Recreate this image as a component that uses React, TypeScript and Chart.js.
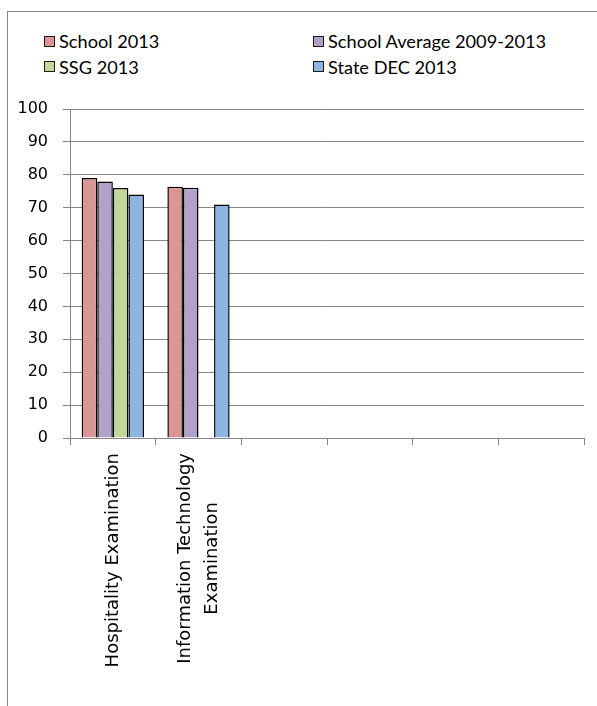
import React, { useEffect, useRef } from "react";
import { Chart, registerables } from "chart.js";

Chart.register(...registerables);

// ---- data ----
const categories: string[][] = [
  ["Hospitality Examination"],
  ["Information Technology", "Examination"],
  [""],
  [""],
  [""],
  [""],
];
const seriesNames = ["School 2013", "School Average 2009-2013", "SSG 2013", "State DEC 2013"];
const school2013: (number | null)[] = [79, 76.4, null, null, null, null];
const schoolAverage: (number | null)[] = [78, 76.1, null, null, null, null];
const ssg2013: (number | null)[] = [76, null, null, null, null, null];
const stateDec2013: (number | null)[] = [74, 71, null, null, null, null];
const seriesColors = ["#D99694", "#B3A2C7", "#C3D69B", "#8EB4E3"];
const yMin = 0;
const yMax = 100;
const yStep = 10;

const GRID = "#868686";

const xLabelPlugin = {
  id: "xLabelPlugin",
  afterDraw(chart: any) {
    const scale = chart.scales.x;
    const ctx = chart.ctx;
    ctx.save();
    ctx.font = "18px 'DejaVu Sans'";
    ctx.fillStyle = "#000";
    ctx.textAlign = "center";
    ctx.textBaseline = "middle";
    (chart.data.labels as any[]).forEach((lab, i) => {
      const lines: string[] = Array.isArray(lab) ? lab : [String(lab)];
      const maxW = Math.max(...lines.map((l) => ctx.measureText(l).width));
      if (!maxW) return;
      const x = scale.getPixelForTick(i);
      const y = scale.top + 15 + maxW / 2;
      ctx.save();
      ctx.translate(x, y);
      ctx.rotate(-Math.PI / 2);
      const lh = 26.7;
      lines.forEach((l, j) => ctx.fillText(l, 0, (j - (lines.length - 1) / 2) * lh));
      ctx.restore();
    });
    ctx.restore();
  },
};

export default function App() {
  const canvasRef = useRef<HTMLCanvasElement | null>(null);

  useEffect(() => {
    if (!canvasRef.current) return;
    const seriesData = [school2013, schoolAverage, ssg2013, stateDec2013];
    const chart = new Chart(canvasRef.current, {
      type: "bar",
      data: {
        labels: categories,
        datasets: seriesNames.map((name, i) => ({
          label: name,
          data: seriesData[i],
          backgroundColor: seriesColors[i],
          borderColor: "#000000",
          borderWidth: 1.5,
          categoryPercentage: 0.727,
          barPercentage: 1,
        })),
      },
      options: {
        responsive: false,
        animation: false,
        devicePixelRatio: 1,
        layout: { padding: { left: 0, top: 109, right: 13, bottom: 0 } },
        plugins: {
          legend: { display: false },
          tooltip: { enabled: false },
        },
        scales: {
          x: {
            offset: true,
            grid: {
              offset: true,
              drawOnChartArea: false,
              drawTicks: true,
              tickLength: 7,
              color: GRID,
              lineWidth: 1,
            },
            border: { display: true, color: GRID, width: 1 },
            ticks: { display: false },
            afterFit: (scale: any) => {
              scale.height = 268;
            },
          },
          y: {
            min: yMin,
            max: yMax,
            grid: {
              color: GRID,
              lineWidth: 1,
              drawTicks: true,
              tickLength: 7,
            },
            border: { display: true, color: GRID, width: 1 },
            ticks: {
              stepSize: yStep,
              color: "#000",
              padding: 15,
              font: { family: "'DejaVu Sans'", size: 16 },
            },
            afterFit: (scale: any) => {
              scale.width = 70;
            },
          },
        },
      },
      plugins: [xLabelPlugin],
    });
    return () => chart.destroy();
  }, []);

  return (
    <div
      style={{
        position: "absolute",
        left: 0,
        top: 0,
        width: 597,
        height: 706,
        overflow: "hidden",
        background: "#fff",
      }}
    >
      <div
        style={{
          position: "absolute",
          left: 7,
          top: 11,
          width: 800,
          height: 900,
          border: `1px solid ${GRID}`,
          boxSizing: "border-box",
        }}
      />
      {seriesNames.map((name, i) => {
        const col = i % 2;
        const row = Math.floor(i / 2);
        return (
          <div
            key={name}
            style={{
              position: "absolute",
              left: col === 0 ? 44 : 313,
              top: row === 0 ? 29 : 54.7,
              height: 24,
              display: "flex",
              alignItems: "center",
              fontFamily: "Lato, sans-serif",
              fontSize: 18.2,
              color: "#000",
              whiteSpace: "nowrap",
            }}
          >
            <span
              style={{
                display: "inline-block",
                width: 11,
                height: 11,
                boxSizing: "border-box",
                border: "1px solid #1a1a1a",
                background: seriesColors[i],
                marginRight: 4,
              }}
            />
            <span>{name}</span>
          </div>
        );
      })}
      <canvas
        ref={canvasRef}
        width={597}
        height={706}
        style={{ position: "absolute", left: 0, top: 0, width: 597, height: 706 }}
      />
    </div>
  );
}
